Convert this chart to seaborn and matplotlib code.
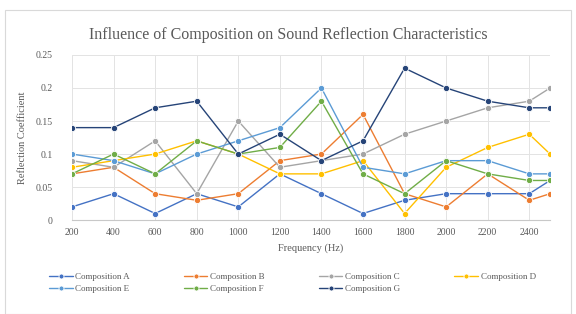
import pandas as pd
import matplotlib
matplotlib.use("Agg")
import matplotlib.pyplot as plt
import seaborn as sns
from matplotlib.patches import Rectangle

# --- DATA ---
FREQ = [200, 400, 600, 800, 1000, 1200, 1400, 1600, 1800, 2000, 2200, 2400, 2500]
COMP_A = [0.02, 0.04, 0.01, 0.04, 0.02, 0.07, 0.04, 0.01, 0.03, 0.04, 0.04, 0.04, 0.06]
COMP_B = [0.07, 0.08, 0.04, 0.03, 0.04, 0.09, 0.10, 0.16, 0.04, 0.02, 0.07, 0.03, 0.04]
COMP_C = [0.09, 0.08, 0.12, 0.04, 0.15, 0.08, 0.09, 0.10, 0.13, 0.15, 0.17, 0.18, 0.20]
COMP_D = [0.08, 0.09, 0.10, 0.12, 0.10, 0.07, 0.07, 0.09, 0.01, 0.08, 0.11, 0.13, 0.10]
COMP_E = [0.10, 0.09, 0.07, 0.10, 0.12, 0.14, 0.20, 0.08, 0.07, 0.09, 0.09, 0.07, 0.07]
COMP_F = [0.07, 0.10, 0.07, 0.12, 0.10, 0.11, 0.18, 0.07, 0.04, 0.09, 0.07, 0.06, 0.06]
COMP_G = [0.14, 0.14, 0.17, 0.18, 0.10, 0.13, 0.09, 0.12, 0.23, 0.20, 0.18, 0.17, 0.17]

NAMES = ["Composition A", "Composition B", "Composition C", "Composition D",
         "Composition E", "Composition F", "Composition G"]
SERIES = [COMP_A, COMP_B, COMP_C, COMP_D, COMP_E, COMP_F, COMP_G]
COLORS = ["#4472C4", "#ED7D31", "#A5A5A5", "#FFC000", "#5B9BD5", "#70AD47", "#264478"]

X_TICKS = [200, 400, 600, 800, 1000, 1200, 1400, 1600, 1800, 2000, 2200, 2400]
Y_TICKS = [0, 0.05, 0.1, 0.15, 0.2, 0.25]
Y_LABELS = ["0", "0.05", "0.1", "0.15", "0.2", "0.25"]

# long-form table for seaborn
rows = []
for name, vals in zip(NAMES, SERIES):
    for f, v in zip(FREQ, vals):
        rows.append({"Frequency": f, "Reflection": v, "Composition": name})
df = pd.DataFrame(rows)

sns.set_theme(style="white")
plt.rcParams["font.family"] = ["Liberation Serif", "DejaVu Serif"]

fig = plt.figure(figsize=(5.76, 3.14), dpi=100)
ax = fig.add_axes([0.125, 0.299, 0.83, 0.526])

sns.lineplot(data=df, x="Frequency", y="Reflection", hue="Composition",
             hue_order=NAMES, palette=COLORS, marker="o", markersize=4.5,
             markeredgewidth=0.6, linewidth=1.0, ax=ax, legend=True)

ax.set_xlim(200, 2500)
ax.set_ylim(0, 0.25)
ax.set_xticks(X_TICKS)
ax.set_xticklabels([str(t) for t in X_TICKS], fontsize=7, color="#595959")
ax.set_yticks(Y_TICKS)
ax.set_yticklabels(Y_LABELS, fontsize=7, color="#595959")
ax.tick_params(axis="both", length=0, pad=6)
ax.tick_params(axis="y", pad=14)

ax.grid(True, color="#e3e3e3", linewidth=0.7)
ax.set_axisbelow(True)
for side in ["top", "right", "left"]:
    ax.spines[side].set_visible(False)
ax.spines["bottom"].set_color("#c8c8c8")
ax.spines["bottom"].set_linewidth(0.8)

ax.set_xlabel("Frequency (Hz)", fontsize=7.5, color="#595959", labelpad=4)
ax.set_ylabel("Reflection Coefficient", fontsize=7.5, color="#595959", labelpad=6)

fig.text(0.5, 0.888, "Influence of Composition on Sound Reflection Characteristics",
         ha="center", va="center", fontsize=11.5, color="#595959")

# legend fills column by column, so reorder to read A-D on row one, E-G on row two
handles, labels = ax.get_legend_handles_labels()
order = [0, 4, 1, 5, 2, 6, 3]
ax.legend([handles[i] for i in order], [labels[i] for i in order],
          loc="upper left", bbox_to_anchor=(-0.065, -0.27),
          ncol=4, frameon=False, fontsize=6.5, handlelength=2.6,
          columnspacing=6.0, handletextpad=0.3, labelspacing=0.4,
          labelcolor="#595959", markerscale=0.8)

# chart area border
fig.patches.append(Rectangle((5 / 576, 0.0), 566 / 576, 0.968, transform=fig.transFigure,
                             fill=False, edgecolor="#d9d9d9", linewidth=0.8))

fig.savefig("out.png", dpi=100)
